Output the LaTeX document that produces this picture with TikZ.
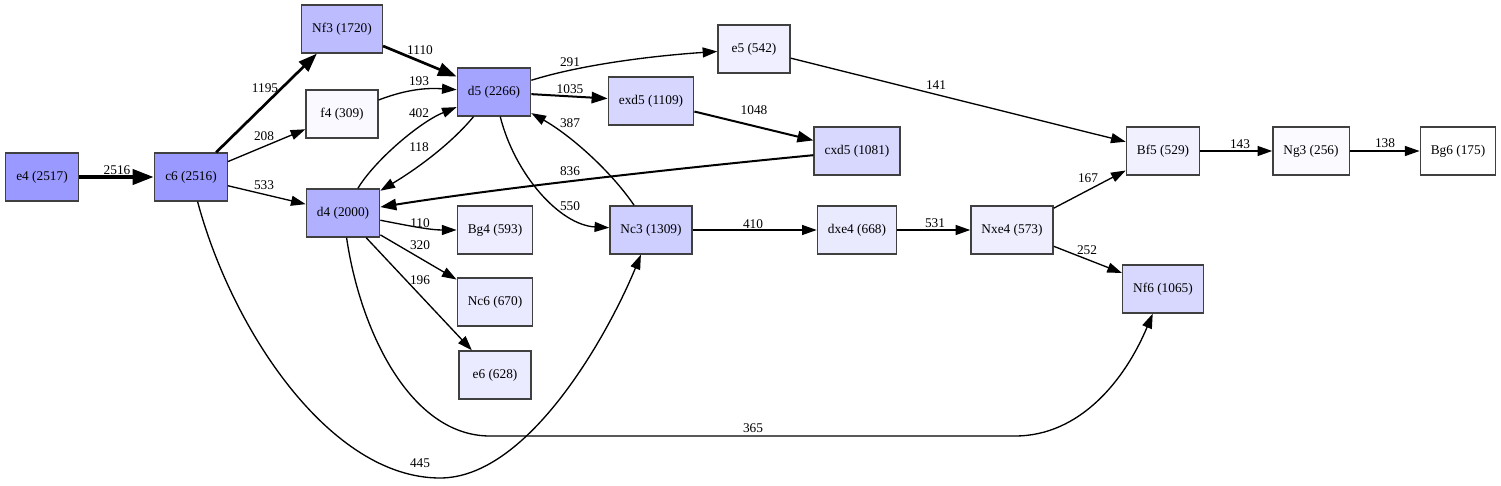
\documentclass[tikz,border=0pt]{standalone}
\usepackage{fontspec}
\setmainfont{Liberation Serif}
\usetikzlibrary{arrows.meta}
\begin{document}
\begin{tikzpicture}[x=0.75pt,y=-0.75pt,
  move/.style={draw=black!75,line width=1pt,minimum width=54pt,minimum height=36pt,
    inner xsep=7.92pt,inner ysep=0pt,font=\fontsize{10}{12}\selectfont},
  link/.style={line width=1pt,-{Triangle[length=11pt,width=7.5pt]}},
  wide/.style={line width=1.5pt,-{Triangle[length=12pt,width=8.5pt]}},
  wider/.style={line width=2pt,-{Triangle[length=14pt,width=10pt]}},
  widest/.style={line width=3.5pt,-{Triangle[length=16pt,width=11pt]}},
  cnt/.style={font=\fontsize{10}{12}\selectfont,inner sep=0pt}]
\useasboundingbox (0,0) rectangle (1501,485);
% moves, shaded by count
\foreach \n/\x/\y/\c in {e4/42/177/2517, c6/191/177/2516, Nf3/342/29/1720, f4/342/114/309,
    d4/343/213/2000, d5/494/92/2266, e5/754/49/542, exd5/651/101/1109, cxd5/857/151/1081,
    Bf5/1163/151/529, Ng3/1311/151/256, Bg6/1458/151/175, Nc3/651/230/1309,
    dxe4/857/230/668, Nxe4/1012/230/573, Nf6/1163/289/1065, Bg4/495/230/593,
    Nc6/495/302/670, e6/495/375/628}{
  \pgfmathsetmacro\p{(\c-175)/58.55}
  \node[move,fill=blue!\p!white] (\n) at (\x,\y) {\n\ (\c)};
}
\draw[widest] (e4) -- (c6) node[cnt] (w1) at (117,170) {2516};
\draw[wider] (c6) -- (Nf3) node[cnt] (w2) at (265,88) {1195};
\draw[link] (c6) -- (f4) node[cnt] (w3) at (264,136) {208};
\draw[link] (c6) -- (d4) node[cnt] (w4) at (264,185) {533};
\draw[link] (c6) .. controls (232,330) and (330,478) .. (440,478)
  .. controls (530,478) and (610,330) .. (Nc3) node[cnt] (w5) at (420,463) {445};
\draw[wider] (Nf3) -- (d5) node[cnt] (w6) at (420,50) {1110};
\draw[link] (f4) .. controls (410,88) and (430,88) .. (d5) node[cnt] (w7) at (419,81) {193};
\draw[link] (d4) .. controls (375,160) and (420,122) .. (d5) node[cnt] (w8) at (419,113) {402};
\draw[link] (d5) .. controls (450,145) and (415,170) .. (d4) node[cnt] (w9) at (419,147) {118};
\draw[wide] (cxd5) .. controls (680,168) and (500,188) .. (d4) node[cnt] (w10) at (570,171) {836};
\draw[link] (d4) .. controls (410,226) and (430,230) .. (Bg4) node[cnt] (w11) at (420,223) {110};
\draw[link] (d4) -- (Nc6) node[cnt] (w12) at (420,245) {320};
\draw[link] (d4) -- (e6) node[cnt] (w13) at (420,280) {196};
\draw[link] (d4) .. controls (360,330) and (410,436) .. (490,436) -- (1015,436)
  .. controls (1080,436) and (1125,380) .. (Nf6) node[cnt] (w14) at (753,428) {365};
\draw[link] (d5) .. controls (580,65) and (650,56) .. (e5) node[cnt] (w15) at (570,62) {291};
\draw[wide] (d5) -- (exd5) node[cnt] (w16) at (570,89) {1035};
\draw[link] (d5) .. controls (515,175) and (560,225) .. (Nc3) node[cnt] (w17) at (570,206) {550};
\draw[link] (Nc3) .. controls (610,170) and (570,135) .. (d5) node[cnt] (w18) at (570,123) {387};
\draw[wide] (exd5) -- (cxd5) node[cnt] (w19) at (754,110) {1048};
\draw[link] (e5) -- (Bf5) node[cnt] (w20) at (936,85) {141};
\draw[link] (Nc3) -- (dxe4) node[cnt] (w21) at (753,224) {410};
\draw[link] (dxe4) -- (Nxe4) node[cnt] (w22) at (935,223) {531};
\draw[link] (Nxe4) -- (Bf5) node[cnt] (w23) at (1088,178) {167};
\draw[link] (Nxe4) -- (Nf6) node[cnt] (w24) at (1087,250) {252};
\draw[link] (Bf5) -- (Ng3) node[cnt] (w25) at (1240,144) {143};
\draw[link] (Ng3) -- (Bg6) node[cnt] (w26) at (1385,143) {138};
\end{tikzpicture}
\end{document}
